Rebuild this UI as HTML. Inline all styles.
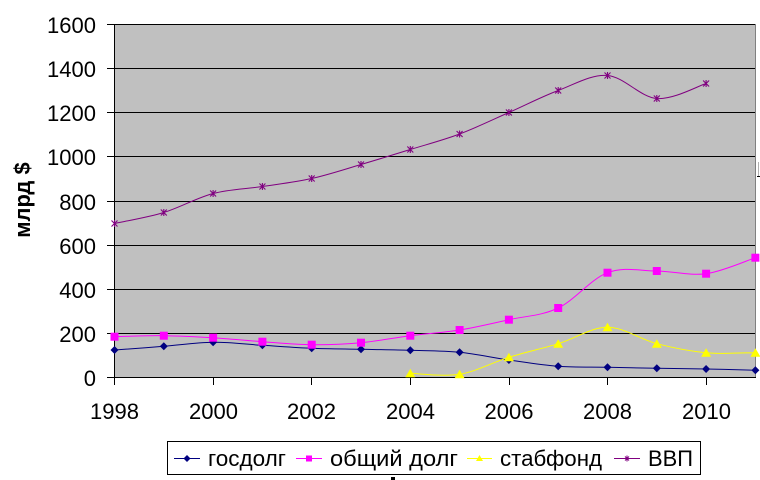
<!DOCTYPE html>
<html><head><meta charset="utf-8"><style>
html,body{margin:0;padding:0;background:#fff;}
svg{display:block;}
text{font-family:"Liberation Sans",Arial,sans-serif;fill:#000;}
</style></head><body>
<svg width="760" height="480" viewBox="0 0 760 480" xmlns="http://www.w3.org/2000/svg">
<defs>
<path id="dm" d="M0,-4 L4,0 L0,4 L-4,0Z" fill="#000080"/>
<rect id="sq" x="-4" y="-4" width="8" height="8" fill="#FF00FF"/>
<path id="tr" d="M0,-4.5 L5,4 L-5,4Z" fill="#FFFF00"/>
<path id="st" d="M-3,-3L3,3M-3,3L3,-3M0,-3.5V3.5" stroke="#800080" stroke-width="1.1" fill="none"/>
</defs>
<rect x="0" y="0" width="760" height="480" fill="#fff"/>
<rect x="114" y="24" width="641" height="353" fill="#C0C0C0"/>
<line x1="755.5" y1="24" x2="755.5" y2="377" stroke="#808080" stroke-width="1"/>
<g stroke="#000" stroke-width="1">
<line x1="107" y1="24.5" x2="755" y2="24.5"/>
<line x1="107" y1="68.5" x2="755" y2="68.5"/>
<line x1="107" y1="112.5" x2="755" y2="112.5"/>
<line x1="107" y1="156.5" x2="755" y2="156.5"/>
<line x1="107" y1="201.5" x2="755" y2="201.5"/>
<line x1="107" y1="245.5" x2="755" y2="245.5"/>
<line x1="107" y1="289.5" x2="755" y2="289.5"/>
<line x1="107" y1="333.5" x2="755" y2="333.5"/>
<line x1="107" y1="377.5" x2="756" y2="377.5"/>
<line x1="114.5" y1="24" x2="114.5" y2="385"/>
<line x1="213.5" y1="377" x2="213.5" y2="385"/>
<line x1="311.5" y1="377" x2="311.5" y2="385"/>
<line x1="410.5" y1="377" x2="410.5" y2="385"/>
<line x1="509.5" y1="377" x2="509.5" y2="385"/>
<line x1="607.5" y1="377" x2="607.5" y2="385"/>
<line x1="706.5" y1="377" x2="706.5" y2="385"/>
</g>
<g font-size="22" text-anchor="end">
<text x="96" y="33">1600</text>
<text x="96" y="77">1400</text>
<text x="96" y="121">1200</text>
<text x="96" y="165">1000</text>
<text x="96" y="210">800</text>
<text x="96" y="254">600</text>
<text x="96" y="298">400</text>
<text x="96" y="342">200</text>
<text x="96" y="386">0</text>
</g>
<g font-size="22" text-anchor="middle">
<text x="114.5" y="419">1998</text>
<text x="213.5" y="419">2000</text>
<text x="311.5" y="419">2002</text>
<text x="410.5" y="419">2004</text>
<text x="509" y="419">2006</text>
<text x="607.5" y="419">2008</text>
<text x="706.5" y="419">2010</text>
</g>
<text transform="translate(30,200) rotate(-90)" text-anchor="middle" font-size="22" font-weight="bold">млрд $</text>

<g fill="none" stroke-width="1">
<path id="p1" stroke="#000080" d=""/>
<path id="p2" stroke="#FF00FF" d=""/>
<path id="p3" stroke="#FFFF00" d=""/>
<path id="p4" stroke="#800080" d=""/>
</g>
<g id="mk"></g>

<rect x="167.5" y="441.5" width="533" height="33" fill="#fff" stroke="#000" stroke-width="1"/>
<line x1="174" y1="458.5" x2="200" y2="458.5" stroke="#000080" stroke-width="1"/>
<path d="M187,455 L190.5,458.5 L187,462 L183.5,458.5Z" fill="#000080"/>
<text x="208" y="466" font-size="22" textLength="78" lengthAdjust="spacingAndGlyphs">госдолг</text>
<line x1="296" y1="458.5" x2="322" y2="458.5" stroke="#FF00FF" stroke-width="1"/>
<rect x="306" y="455.5" width="6" height="6" fill="#FF00FF"/>
<text x="330" y="466" font-size="22" textLength="128" lengthAdjust="spacingAndGlyphs">общий долг</text>
<line x1="467" y1="458.5" x2="492" y2="458.5" stroke="#FFFF00" stroke-width="1"/>
<path d="M479.5,455 L483,461 L476,461Z" fill="#FFFF00"/>
<text x="500" y="466" font-size="22" textLength="102" lengthAdjust="spacingAndGlyphs">стабфонд</text>
<line x1="614" y1="458.5" x2="640" y2="458.5" stroke="#800080" stroke-width="1"/>
<path d="M625,456.5L629,460.5M625,460.5L629,456.5M627,455.5V461.5" stroke="#800080" stroke-width="1"/>
<text x="648" y="466" font-size="22" textLength="45" lengthAdjust="spacingAndGlyphs">ВВП</text>

<rect x="391" y="477" width="4" height="3" fill="#000"/>
<line x1="758.5" y1="162" x2="758.5" y2="176" stroke="#b0b0b0" stroke-width="1"/>
<line x1="757" y1="176.5" x2="760" y2="176.5" stroke="#000" stroke-width="1"/>
</svg>
<script>
(function(){
var X=[114.5,163.8,213.1,262.4,311.7,361,410.3,459.6,508.9,558.2,607.5,656.8,706.1,755.4];
var blue=[350,346.3,342.3,345.3,348.3,349.3,350.3,352.3,360,366.3,367.3,368.3,369,370.3];
var pink=[336.7,335.7,337.7,341.7,344.7,342.7,335.7,330,319.7,308,272.7,271,273.7,257.7];
var yel=[373.3,374.3,357.3,343.7,327.3,343.7,352.7,352.7];
var gdp=[223.5,212.5,193.5,186.5,178.5,164.5,149.5,134,112.5,90.5,75.5,98.5,83.5];
function pts(ys,off){var p=[];for(var i=0;i<ys.length;i++)p.push([X[i+off],ys[i]]);return p;}
function smooth(p){
  var d="M"+p[0][0]+","+p[0][1];
  for(var i=0;i<p.length-1;i++){
    var p0=p[i>0?i-1:i],p1=p[i],p2=p[i+1],p3=p[i+2<p.length?i+2:i+1];
    var c1x=p1[0]+(p2[0]-p0[0])/6,c1y=p1[1]+(p2[1]-p0[1])/6;
    var c2x=p2[0]-(p3[0]-p1[0])/6,c2y=p2[1]-(p3[1]-p1[1])/6;
    d+=" C"+c1x.toFixed(2)+","+c1y.toFixed(2)+" "+c2x.toFixed(2)+","+c2y.toFixed(2)+" "+p2[0]+","+p2[1];
  }
  return d;
}
var S=[[pts(blue,0),"p1","dm"],[pts(pink,0),"p2","sq"],[pts(yel,6),"p3","tr"],[pts(gdp,0),"p4","st"]];
var mk=document.getElementById("mk"),ns="http://www.w3.org/2000/svg";
S.forEach(function(s){
  var p=document.getElementById(s[1]);
  p.setAttribute("d",smooth(s[0]));
  p.setAttribute("fill","none");p.setAttribute("stroke-width","1");
  var g=document.createElementNS(ns,"g");
  s[0].forEach(function(q){
    var u=document.createElementNS(ns,"use");
    u.setAttribute("href","#"+s[2]);
    u.setAttribute("x",q[0]);u.setAttribute("y",q[1]);
    g.appendChild(u);
  });
  mk.appendChild(p);mk.appendChild(g);
});
})();
</script>
</body></html>
